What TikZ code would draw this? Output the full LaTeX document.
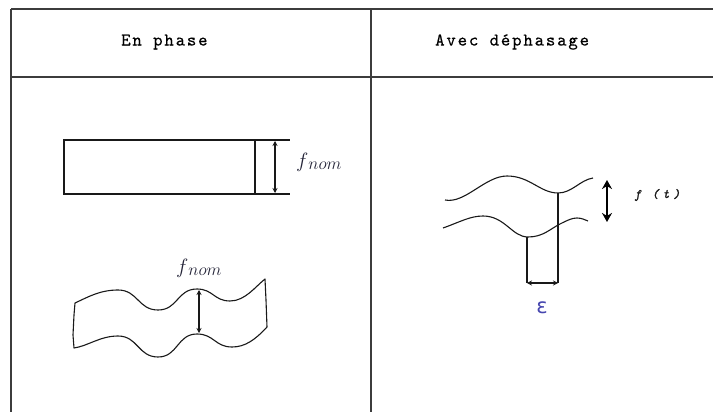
\documentclass[tikz,border=0pt]{standalone}
\usepackage{fontspec}
\newfontfamily\epsfont{DejaVu Sans}
\newfontfamily\hdrfont{lmmono10-regular.otf}[LetterSpace=10,FakeBold=0.4]
\newfontfamily\ftfont{lmmono10-italic.otf}[LetterSpace=30,FakeBold=1.5]
\usetikzlibrary{arrows.meta}
\definecolor{gridc}{RGB}{60,60,60}
\definecolor{inkc}{RGB}{25,25,25}
\definecolor{epsc}{RGB}{70,70,175}
\definecolor{mathc}{RGB}{35,35,55}
\tikzset{
  grid/.style={draw=gridc, line width=1.5pt},
  ink/.style={draw=inkc, line width=1.1pt},
  dimarrow/.style={draw=inkc, line width=1.1pt, {Stealth[length=5pt,width=5pt]}-{Stealth[length=5pt,width=5pt]}},
  bigarrow/.style={draw=black, line width=1.6pt, {Stealth[length=9pt,width=10pt]}-{Stealth[length=9pt,width=10pt]}},
  hdr/.style={anchor=west, inner sep=0pt, text=black, font=\hdrfont\fontsize{18}{18}\selectfont},
  fnom/.style={inner sep=0pt, text=mathc},
}
\newcommand{\fnomtext}{{\fontsize{20}{20}\selectfont$f$}\raisebox{-2pt}{\fontsize{17}{17}\selectfont$nom$}}
\begin{document}
\begin{tikzpicture}[x=1pt,y=-1pt]
\useasboundingbox (0,0) rectangle (713,412);
\fill[white] (0,0) rectangle (713,412);
% table
\coordinate (tl) at (11,9);
\coordinate (tr) at (713,9);
\coordinate (bl) at (11,412);
\coordinate (tm) at (371,9);
\coordinate (bm) at (371,412);
\coordinate (hl) at (11,77);
\coordinate (hr) at (713,77);
\draw[grid] (tl) -- (tr);
\draw[grid] (tl) -- (bl);
\draw[grid] (tm) -- (bm);
\draw[grid] (hl) -- (hr);
\node[hdr] (h1) at (121,42) {En phase};
\node[hdr] (h2) at (435,42) {Avec déphasage};
% rectangle
\draw[ink] (255,140) -- (64,140) -- (64,194) -- (255,194) -- cycle;
\draw[ink] (255,140) -- (290,140);
\draw[ink] (255,194) -- (290,194);
\coordinate (ra) at (275,141);
\coordinate (rb) at (275,193);
\draw[dimarrow] (ra) -- (rb);
\node[fnom, anchor=west] (l1) at (296,162) {\fnomtext};
% wavy band
\draw[ink, line join=round] (75,303) .. controls (88,297) and (100,290) .. (118,290)
  .. controls (138,290) and (138,310) .. (158,310)
  .. controls (178,310) and (177,289) .. (197,289)
  .. controls (213,289) and (214,301) .. (230,301)
  .. controls (245,301) and (255,287) .. (265,279)
  -- (266,300) -- (267,327)
  .. controls (255,340) and (245,347) .. (232,347)
  .. controls (215,347) and (214,334) .. (197,334)
  .. controls (177,334) and (178,357) .. (158,357)
  .. controls (138,357) and (138,336) .. (118,336)
  .. controls (100,336) and (88,346) .. (74,348)
  -- (73,335) -- (74,315) -- cycle;
\coordinate (wa) at (199,290);
\coordinate (wb) at (199,333);
\draw[dimarrow] (wa) -- (wb);
\node[fnom, anchor=west] (l2) at (176,268) {\fnomtext};
% right column curves
\draw[ink] (445,200) .. controls (465,204) and (485,176) .. (507,176)
  .. controls (530,176) and (540,193) .. (558,193)
  .. controls (572,193) and (580,180) .. (593,178);
\draw[ink] (443,228) .. controls (460,222) and (470,216) .. (483,216)
  .. controls (505,216) and (512,237) .. (528,237)
  .. controls (543,237) and (550,229) .. (560,224)
  .. controls (568,220) and (572,218) .. (577,218)
  .. controls (582,218) and (585,220) .. (588,221);
\coordinate (v1t) at (558,193);
\coordinate (v1b) at (558,283);
\coordinate (v2t) at (527,237);
\coordinate (v2b) at (527,283);
\draw[ink] (v1t) -- (v1b);
\draw[ink] (v2t) -- (v2b);
\draw[dimarrow] (v2b) -- (v1b);
\coordinate (ba) at (607,180);
\coordinate (bb) at (607,222);
\draw[bigarrow] (ba) -- (bb);
\node[anchor=west, inner sep=0pt, text=inkc, font=\ftfont\fontsize{13}{13}\selectfont] (ft) at (634,195) {f (t)};
\node[inner sep=0pt, text=epsc, font=\epsfont\fontsize{21}{21}\selectfont] (eps) at (542,308) {ε};
\end{tikzpicture}
\end{document}
